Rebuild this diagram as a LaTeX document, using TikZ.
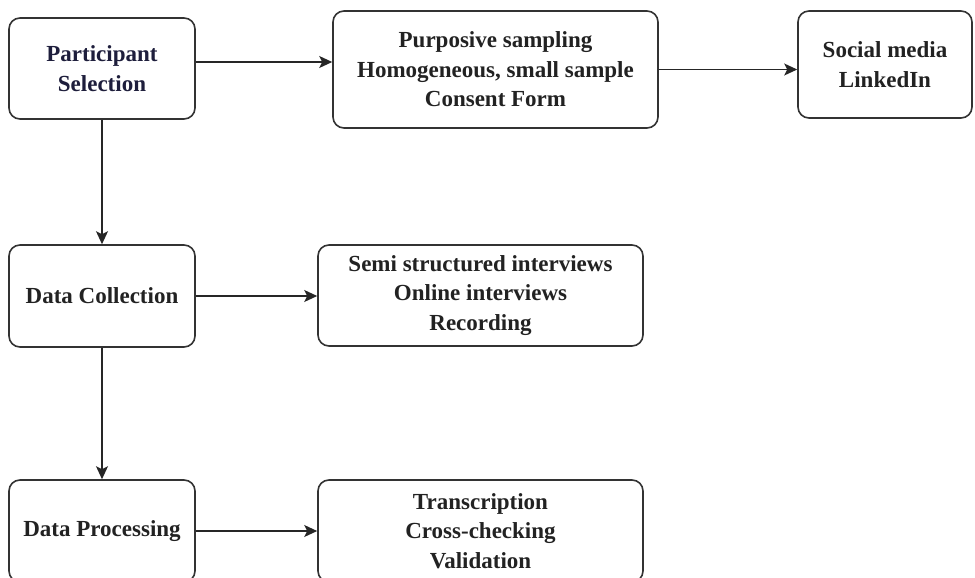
\documentclass[tikz,border=0pt]{standalone}
\usepackage{fontspec}
\setmainfont{Liberation Serif}
\usetikzlibrary{arrows.meta}
\definecolor{boxline}{HTML}{333333}
\definecolor{inktext}{HTML}{222222}
\definecolor{navytext}{HTML}{1E1E3C}
\tikzset{
  stagebox/.style={draw=boxline, line width=1.6pt, rounded corners=11pt,
    fill=white, align=center, text=inktext,
    font=\bfseries\fontsize{23}{29.5}\selectfont, inner sep=0pt},
  flow/.style={draw=black!85, line width=1.6pt,
    -{Stealth[length=13pt,width=12pt,inset=3pt]}}
}
\begin{document}
\begin{tikzpicture}[x=1pt,y=-1pt]
  \useasboundingbox (0,0) rectangle (975,578);
  \begin{scope}
    \clip (0,0) rectangle (975,578);
    % left column: the three stages
    \node[stagebox, text=navytext, minimum width=186pt, minimum height=101pt]
      (ps) at (102,68.5) {Participant\\Selection};
    \node[stagebox, minimum width=186pt, minimum height=102pt]
      (dc) at (102,296) {Data Collection};
    \node[stagebox, minimum width=186pt, minimum height=102pt]
      (dp) at (102,531) {Data Processing};
    % details of each stage
    \node[stagebox, minimum width=325pt, minimum height=117pt]
      (pur) at (495.5,69.5) {Purposive sampling\\Homogeneous, small sample\\Consent Form};
    \node[stagebox, minimum width=174pt, minimum height=107pt]
      (soc) at (885,64.5) {Social media\\LinkedIn};
    \node[stagebox, minimum width=325pt, minimum height=101pt]
      (semi) at (480.5,295.5) {Semi structured interviews\\Online interviews\\Recording};
    \node[stagebox, minimum width=325pt, minimum height=102pt]
      (tr) at (480.5,531) {Transcription\\Cross-checking\\Validation};
    % connectors
    \coordinate (psout) at ([yshift=6.5pt]ps.east);
    \draw[flow] (psout) -- (psout -| pur.west);
    \draw[flow] (pur.east) -- (pur.east -| soc.west);
    \draw[flow] (ps.south) -- (dc.north);
    \draw[flow] (dc.south) -- (dp.north);
    \draw[flow] (dc.east) -- (dc.east -| semi.west);
    \draw[flow] (dp.east) -- (dp.east -| tr.west);
  \end{scope}
\end{tikzpicture}
\end{document}
